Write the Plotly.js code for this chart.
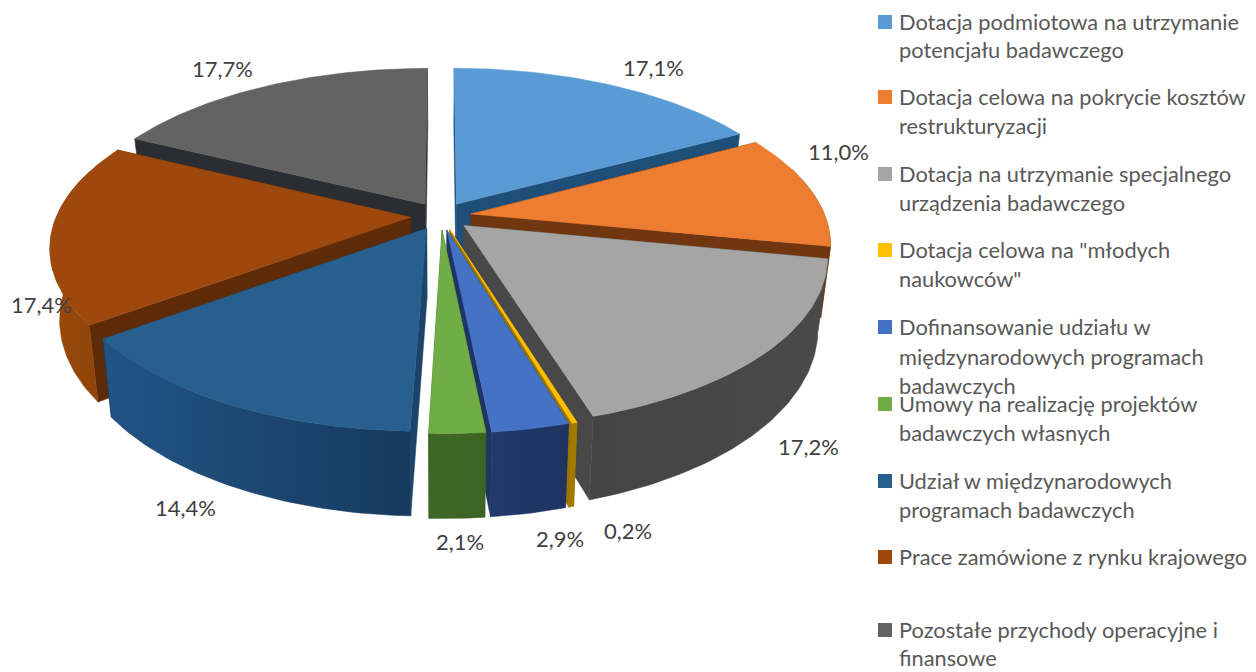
<!DOCTYPE html>
<html>
<head>
<meta charset="utf-8">
<script src="https://cdn.plot.ly/plotly-3.0.1.min.js"></script>
<style>html,body{margin:0;padding:0;background:#fff}#chart{width:1256px;height:672px}</style>
</head>
<body>
<div id="chart"></div>
<script>
// Data
const categories = [
  'Dotacja podmiotowa na utrzymanie<br>potencjału badawczego',
  'Dotacja celowa na pokrycie kosztów<br>restrukturyzacji',
  'Dotacja na utrzymanie specjalnego<br>urządzenia badawczego',
  'Dotacja celowa na "młodych<br>naukowców"',
  'Dofinansowanie udziału w<br>międzynarodowych programach<br>badawczych',
  'Umowy na realizację projektów<br>badawczych własnych',
  'Udział w międzynarodowych<br>programach badawczych',
  'Prace zamówione z rynku krajowego',
  'Pozostałe przychody operacyjne i<br>finansowe'
];
const values = [17.1, 11.0, 17.2, 0.2, 2.9, 2.1, 14.4, 17.4, 17.7];

// Styles
const topColors  = ['#5B9BD5','#ED7D31','#A5A5A5','#FFC000','#4472C4','#70AD47','#27608F','#9E480E','#636363'];
const edgeColors = ['#1F4E79','#6F3610','#484848','#9A7400','#1E3564','#3C6324','#1B4468','#5E2B08','#2A2D31'];
const wallLeft   = ['#2A5A85','#6F3610','#444444','#A37A00','#22396B','#3F6726','#215486','#9A4A0A','#3A3A3A'];
const wallRight  = ['#1F4E79','#6F3610','#4A4A4A','#A37A00','#1E3360','#3C6324','#173A5E','#8F4409','#3A3A3A'];

// Layout of the drawing
const cx = 441, cy = 216, Rx = 354, Ry = 163, camera = 5.81, explode = 0.086;
const wallHeight = 69, bottomShrink = 0.975;
const labelX = [653, 838, 808, 628, 560, 460, 185, 41, 222];
const labelY = [67, 151, 446, 530, 538, 541, 507, 304, 68];
const legendMarkY = [22, 97, 174, 250, 327, 404, 481, 557, 630];
const legendLineY = [[21,49],[96,125],[173,202],[249,278],[326,356,385],[403,432],[480,509],[556],[629,657]];
const legendFont = {family:'Lato, Carlito, sans-serif', size:21.8, color:'#595959'};
const labelFont  = {family:'Lato, Carlito, sans-serif', size:22, color:'#404040'};

// Perspective projection
function project(gx, gv, lower) {
  const s = camera / (camera - gv);
  let x = cx + Rx * gx * s;
  let y = cy + Ry * gv * s;
  if (lower) { x = cx + (x - cx) * bottomShrink; y += wallHeight * s; }
  return [x, y];
}
const rad = d => d * Math.PI / 180;
const total = values.reduce((a, b) => a + b, 0);
let acc = 0;
const slices = values.map((v, i) => {
  const a0 = acc / total * 360; acc += v; const a1 = acc / total * 360;
  const mid = rad((a0 + a1) / 2);
  return {i, a0, a1, ox: explode * Math.sin(mid), ov: -explode * Math.cos(mid), depth: -Math.cos(mid)};
});
function rim(s, deg, lower) {
  return project(s.ox + Math.sin(rad(deg)), s.ov - Math.cos(rad(deg)), lower);
}
function poly(pts, color, name, gradient) {
  const xs = pts.map(p => p[0]).concat(pts[0][0]);
  const ys = pts.map(p => p[1]).concat(pts[0][1]);
  const t = {type:'scatter', mode:'lines', x:xs, y:ys, fill:'toself', fillcolor:color,
    line:{color:color, width:0.5}, name:name, hoverinfo:'skip', showlegend:false};
  if (gradient) t.fillgradient = {type:'horizontal', colorscale:[[0,gradient[0]],[1,gradient[1]]]};
  return t;
}
const traces = [];
slices.slice().sort((a, b) => a.depth - b.depth).forEach(s => {
  const n = categories[s.i].replace(/<br>/g, ' ');
  const apexT = project(s.ox, s.ov, false), apexB = project(s.ox, s.ov, true);
  const arc = [];
  const steps = Math.max(2, Math.ceil(s.a1 - s.a0));
  for (let k = 0; k <= steps; k++) arc.push(s.a0 + (s.a1 - s.a0) * k / steps);
  // radial walls
  [s.a0, s.a1].forEach(d => {
    traces.push(poly([apexT, rim(s, d, false), rim(s, d, true), apexB], edgeColors[s.i], n));
  });
  // outer wall: the part that can show below the top face
  const front = arc.filter(d => Math.cos(rad(d)) < 0.3);
  if (front.length > 1) {
    const up = front.map(d => rim(s, d, false));
    const low = front.slice().reverse().map(d => rim(s, d, true));
    traces.push(poly(up.concat(low), wallRight[s.i], n, [wallLeft[s.i], wallRight[s.i]]));
  }
  // top face
  traces.push(poly([apexT].concat(arc.map(d => rim(s, d, false))), topColors[s.i], n));
});
// legend squares
traces.push({type:'scatter', mode:'markers', x:categories.map(() => 885), y:legendMarkY,
  marker:{symbol:'square', size:14, color:topColors, line:{width:0}}, hoverinfo:'skip', showlegend:false});

const annotations = [];
values.forEach((v, i) => annotations.push({x:labelX[i], y:labelY[i], xref:'x', yref:'y',
  text:v.toFixed(1).replace('.', ',') + '%', showarrow:false, xanchor:'center', yanchor:'middle', font:labelFont}));
categories.forEach((c, i) => c.split('<br>').forEach((line, k) => annotations.push({
  x:897, y:legendLineY[i][k], xref:'x', yref:'y', text:line, showarrow:false,
  xanchor:'left', yanchor:'middle', font:legendFont})));

Plotly.newPlot('chart', traces, {
  width:1256, height:672, margin:{l:0, r:0, t:0, b:0},
  paper_bgcolor:'#fff', plot_bgcolor:'#fff', showlegend:false,
  xaxis:{range:[0,1256], visible:false, fixedrange:true},
  yaxis:{range:[672,0], visible:false, fixedrange:true},
  annotations:annotations
}, {displayModeBar:false, staticPlot:true});
</script>
</body>
</html>
